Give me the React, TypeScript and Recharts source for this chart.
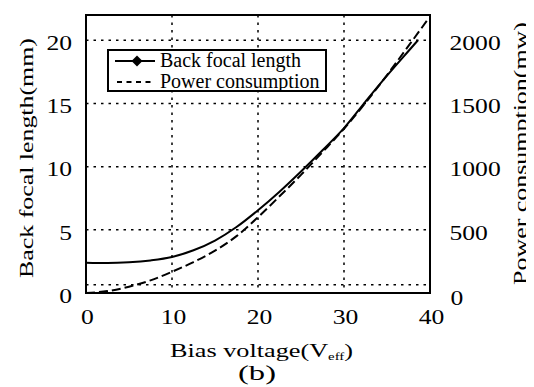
import React from 'react';
import {
  LineChart,
  Line,
  XAxis,
  YAxis,
  CartesianGrid,
  ReferenceArea,
  ReferenceLine,
  Legend,
} from 'recharts';

// ---- data ----
const voltageBfl = [0, 2.5, 5, 7.5, 10, 12.5, 15, 17.5, 20, 22.5, 25, 27.5, 30, 32.5, 35, 37.5, 38.6];
const backFocalLength = [2.4, 2.37, 2.43, 2.58, 2.85, 3.38, 4.15, 5.22, 6.55, 8.02, 9.62, 11.3, 13.05, 15.15, 17.2, 19.15, 20.0];

const voltagePower = [0, 2.5, 5, 7.5, 10, 12.5, 15, 17.5, 20, 22.5, 25, 27.5, 30, 32.5, 35, 37.5, 39.8];
const powerConsumption = [0, 15, 50, 100, 168, 245, 335, 450, 600, 765, 935, 1115, 1300, 1505, 1725, 1955, 2170];

const xTicks = [0, 10, 20, 30, 40];
const leftTicks = [0, 5, 10, 15, 20];
const rightTicks = [0, 500, 1000, 1500, 2000];
const seriesNames = ['Back focal length', 'Power consumption'];
const leftTitle = 'Back focal length(mm)';
const rightTitle = 'Power consumption(mw)';
const xTitleMain = 'Bias voltage(V';
const xTitleSub = 'eff';
const caption = '(b)';

const FONT = '"Liberation Serif", "Times New Roman", Times, serif';

const bflData = voltageBfl.map((v, i) => ({ v, bfl: backFocalLength[i] }));
const powerData = voltagePower.map((v, i) => ({ v, power: powerConsumption[i] }));

const DIGIT_W = 12.8;

function LeftTick(props: any) {
  const { x, y, payload } = props;
  const s = String(payload.value);
  return (
    <text x={x} y={y + 9.7} textAnchor="end" fontFamily={FONT} fontSize={21} fill="#000"
      textLength={s.length * DIGIT_W} lengthAdjust="spacingAndGlyphs">{s}</text>
  );
}

function RightTick(props: any) {
  const { x, y, payload } = props;
  const s = String(payload.value);
  const extra = payload.value === 0 ? 2.5 : 0;
  return (
    <text x={x + (payload.value === 0 ? 1 : 0)} y={y + 9.7 + extra} textAnchor="start" fontFamily={FONT} fontSize={21} fill="#000"
      textLength={s.length * DIGIT_W} lengthAdjust="spacingAndGlyphs">{s}</text>
  );
}

function BottomTick(props: any) {
  const { x, y, payload } = props;
  const s = String(payload.value);
  return (
    <text x={x + 1.5} y={y + 15} textAnchor="middle" fontFamily={FONT} fontSize={21} fill="#000"
      textLength={s.length * DIGIT_W} lengthAdjust="spacingAndGlyphs">{s}</text>
  );
}

const renderLeftTitle = () => (
  <text x={25} y={150} transform="rotate(-90, 25, 150)" textAnchor="middle" fontFamily={FONT} fontSize={19.5} fill="#000"
    textLength={240} lengthAdjust="spacingAndGlyphs">{leftTitle}</text>
);

const renderRightTitle = () => (
  <text x={519} y={145.5} transform="rotate(-90, 519, 145.5)" textAnchor="middle" fontFamily={FONT} fontSize={19.5} fill="#000"
    textLength={263} lengthAdjust="spacingAndGlyphs">{rightTitle}</text>
);

const renderXTitle = () => (
  <g>
    <text x={253.5} y={349} textAnchor="middle" fontFamily={FONT} fontSize={19.5} fill="#000"
      textLength={183} lengthAdjust="spacingAndGlyphs">
      {xTitleMain}
      <tspan fontSize={11} dy={3}>{xTitleSub}</tspan>
      <tspan dy={-3}>)</tspan>
    </text>
    <text x={249} y={372} textAnchor="middle" fontFamily={FONT} fontSize={20} fill="#000"
      textLength={38} lengthAdjust="spacingAndGlyphs">{caption}</text>
  </g>
);

const renderLegend = () => (
  <svg width={220} height={43} style={{ display: 'block' }}>
    <rect x={1} y={1} width={218} height={41} fill="#fff" stroke="#000" strokeWidth={2} />
    <line x1={8} x2={48} y1={12} y2={12} stroke="#000" strokeWidth={2} />
    <polygon points="30,6.5 35.5,12 30,17.5 24.5,12" fill="#000" />
    <text x={53} y={18} fontSize={20} fontFamily={FONT} fill="#000">{seriesNames[0]}</text>
    <line x1={10} x2={44} y1={33} y2={33} stroke="#000" strokeWidth={2} strokeDasharray="5 4.5" />
    <text x={53} y={39} fontSize={20} fontFamily={FONT} fill="#000">{seriesNames[1]}</text>
  </svg>
);

export default function App() {
  return (
    <div style={{ width: 526, height: 379 }}>
      <LineChart width={526} height={379} margin={{ top: 7, right: 44, bottom: 64, left: 18 }}>
        <CartesianGrid
          yAxisId="left"
          stroke="#000"
          strokeWidth={1.5}
          strokeDasharray="2.5 5"
        />
        <XAxis
          dataKey="v"
          type="number"
          domain={[0, 40]}
          ticks={xTicks}
          allowDataOverflow
          tick={<BottomTick />}
          tickLine={false}
          axisLine={false}
          tickSize={0}
          tickMargin={16}
          height={30}
          label={renderXTitle}
        />
        <YAxis
          yAxisId="left"
          orientation="left"
          type="number"
          domain={[0, 22]}
          ticks={leftTicks}
          allowDataOverflow
          tick={<LeftTick />}
          tickLine={false}
          axisLine={false}
          tickSize={0}
          tickMargin={14}
          width={60}
          label={renderLeftTitle}
        />
        <YAxis
          yAxisId="right"
          orientation="right"
          type="number"
          domain={[0, 2200]}
          ticks={rightTicks}
          allowDataOverflow
          tick={<RightTick />}
          tickLine={false}
          axisLine={false}
          tickSize={0}
          tickMargin={19.5}
          width={60}
          label={renderRightTitle}
        />
        <ReferenceLine yAxisId="left" y={0.65} stroke="#000" strokeWidth={1.5} strokeDasharray="2.5 5" />
        <Line
          yAxisId="left"
          data={bflData}
          dataKey="bfl"
          type="monotone"
          stroke="#000"
          strokeWidth={2}
          dot={false}
          activeDot={false}
          isAnimationActive={false}
          name={seriesNames[0]}
        />
        <Line
          yAxisId="right"
          data={powerData}
          dataKey="power"
          type="monotone"
          stroke="#000"
          strokeWidth={2}
          strokeDasharray="9 4"
          dot={false}
          activeDot={false}
          isAnimationActive={false}
          name={seriesNames[1]}
        />
        <ReferenceArea
          yAxisId="left"
          x1={0}
          x2={40}
          y1={0}
          y2={22}
          fill="none"
          fillOpacity={0}
          stroke="#000"
          strokeWidth={2}
        />
        <Legend
          layout="vertical"
          align="center"
          verticalAlign="middle"
          content={renderLegend}
          wrapperStyle={{ position: 'absolute', left: 99, top: 41, width: 220, height: 43, margin: 0, padding: 0 }}
        />
      </LineChart>
    </div>
  );
}
